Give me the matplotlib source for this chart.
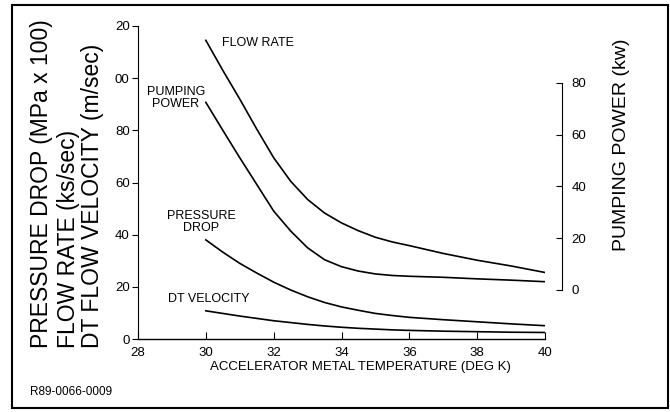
import matplotlib
matplotlib.use('Agg')
import matplotlib.pyplot as plt
from matplotlib.patches import Rectangle

plt.rcParams['font.family'] = ['Liberation Sans', 'DejaVu Sans']

# Werte (Temperatur in K)
temp = [30.0, 30.5, 31.0, 31.5, 32.0, 32.5, 33.0, 33.5, 34.0, 34.5, 35.0, 35.5, 36.0, 37.0, 38.0, 39.0, 40.0]
flow_rate = [114.5, 103, 92, 80.5, 69.5, 60.5, 53.5, 48.3, 44.5, 41.5, 39, 37.2, 35.8, 32.8, 30.2, 28, 25.5]
pressure_drop = [38, 33.3, 29, 25.3, 21.8, 18.8, 16.2, 14, 12.3, 11, 9.8, 9.0, 8.3, 7.4, 6.6, 5.8, 5.1]
dt_velocity = [10.8, 9.8, 8.8, 7.9, 7.0, 6.3, 5.6, 5.0, 4.5, 4.1, 3.8, 3.5, 3.3, 3.0, 2.8, 2.6, 2.5]
# Pumpleistung in kW (rechte Achse)
pumping_power = [72.5, 61.7, 51.1, 40.8, 30.5, 22.8, 16.3, 11.7, 9.0, 7.3, 6.2, 5.6, 5.3, 4.9, 4.3, 3.8, 3.2]

x_ticks = [28, 30, 32, 34, 36, 38, 40]
y_ticks = [0, 20, 40, 60, 80, 100, 120]
y_ticklabels = ['0', '20', '40', '60', '80', '00', '20']
kw_ticks = [0, 20, 40, 60, 80]

W, H = 670, 412
fig = plt.figure(figsize=(W / 100, H / 100), dpi=100)
ax = fig.add_axes([138 / W, (H - 339) / H, (545 - 138) / W, (339 - 26) / H])

lw = 1.2
ax.plot(temp, flow_rate, color='black', linewidth=lw)
ax.plot(temp, pressure_drop, color='black', linewidth=lw)
ax.plot(temp, dt_velocity, color='black', linewidth=lw)

ax.set_xlim(28, 40)
ax.set_ylim(0, 120)
ax.set_xticks(x_ticks)
ax.set_yticks(y_ticks)
ax.set_yticklabels(y_ticklabels)
ax.spines['top'].set_visible(False)
ax.spines['right'].set_visible(False)
ax.spines['left'].set_linewidth(0.8)
ax.spines['bottom'].set_linewidth(1.0)
ax.tick_params(axis='x', direction='in', length=5, pad=6, labelsize=9.5)
ax.tick_params(axis='y', direction='out', length=4, pad=2, labelsize=9.5)

# rechte Achse für Pumpleistung
ax2 = ax.twinx()
ax2.plot(temp, pumping_power, color='black', linewidth=lw)
ax2.set_ylim(-18.94, 102.0)
for s in ['left', 'top', 'bottom']:
    ax2.spines[s].set_visible(False)
ax2.spines['right'].set_position(('outward', 12.3))
ax2.spines['right'].set_bounds(0, 80)
ax2.spines['right'].set_linewidth(0.8)
ax2.set_yticks(kw_ticks)
ax2.tick_params(axis='y', direction='in', length=4, pad=7, labelsize=9.5)

# Kurvenbeschriftungen
ax.text(30.48, 113.5, 'FLOW RATE', fontsize=9, ha='left', va='center')
ax.text(29.12, 92.4, 'PUMPING\nPOWER', fontsize=9, ha='center', va='center', linespacing=1.0)
ax.text(29.86, 44.9, 'PRESSURE\nDROP', fontsize=9, ha='center', va='center', linespacing=1.0)
ax.text(30.08, 15.3, 'DT VELOCITY', fontsize=9, ha='center', va='center')

# Achsentitel
fs_big = 16.5
fig.text(42 / W, (H - 348) / H, 'PRESSURE DROP (MPa x 100)', rotation=90, ha='center', va='bottom', fontsize=fs_big)
fig.text(68 / W, (H - 348) / H, 'FLOW RATE (ks/sec)', rotation=90, ha='center', va='bottom', fontsize=fs_big)
fig.text(93 / W, (H - 348) / H, 'DT FLOW VELOCITY (m/sec)', rotation=90, ha='center', va='bottom', fontsize=fs_big)
fig.text(622 / W, (H - 145) / H, 'PUMPING POWER (kw)', rotation=90, ha='center', va='center', fontsize=14)
fig.text(360 / W, (H - 367) / H, 'ACCELERATOR METAL TEMPERATURE (DEG K)', ha='center', va='center', fontsize=9.5)
fig.text(30 / W, (H - 392) / H, 'R89-0066-0009', ha='left', va='center', fontsize=8.5)

# Rahmen
fig.add_artist(Rectangle((12 / W, 4 / H), (668 - 12) / W, (407 - 4) / H,
                         transform=fig.transFigure, fill=False, linewidth=1.5, edgecolor='black'))

fig.savefig('out.png', dpi=100)
